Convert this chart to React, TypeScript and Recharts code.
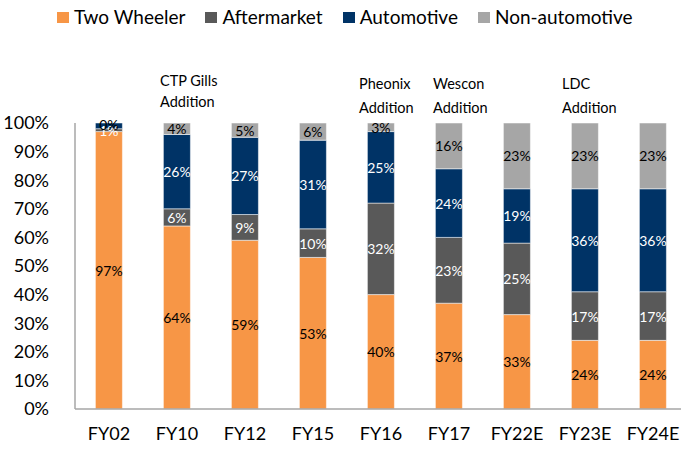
import React from 'react'
import { BarChart, Bar, XAxis, YAxis, LabelList } from 'recharts'

const categories = ['FY02', 'FY10', 'FY12', 'FY15', 'FY16', 'FY17', 'FY22E', 'FY23E', 'FY24E']
const twoWheeler = [97, 64, 59, 53, 40, 37, 33, 24, 24]
const aftermarket = [1, 6, 9, 10, 32, 23, 25, 17, 17]
const automotive = [2, 26, 27, 31, 25, 24, 19, 36, 36]
const nonAutomotive = [0, 4, 5, 6, 3, 16, 23, 23, 23]
const yTicks = [0, 10, 20, 30, 40, 50, 60, 70, 80, 90, 100]

const annotations = [
  { lines: ['CTP Gills', 'Addition'], left: 160, top: 70, lh: 21 },
  { lines: ['Pheonix', 'Addition'], left: 359, top: 72, lh: 24 },
  { lines: ['Wescon', 'Addition'], left: 433, top: 72, lh: 24 },
  { lines: ['LDC', 'Addition'], left: 562, top: 72, lh: 24 },
]

const series = [
  { key: 'twoWheeler', name: 'Two Wheeler', color: '#F79646', label: '#000000' },
  { key: 'aftermarket', name: 'Aftermarket', color: '#595959', label: '#ffffff' },
  { key: 'automotive', name: 'Automotive', color: '#003366', label: '#ffffff' },
  { key: 'nonAutomotive', name: 'Non-automotive', color: '#A6A6A6', label: '#000000' },
]

const data = categories.map((c, i) => ({
  cat: c,
  twoWheeler: twoWheeler[i],
  aftermarket: aftermarket[i],
  automotive: automotive[i],
  nonAutomotive: nonAutomotive[i],
}))

const FONT = 'Lato, "Open Sans", sans-serif'

const App: React.FC = () => {
  const makeLabel = (key: string, fill: string) => (props: any) => {
    const { x, y, width, height, value, index } = props
    const cx = x + width / 2
    // FY02: automotive sliver is unlabeled in the source; the 0% non-automotive label sits on its top edge
    if (key === 'automotive' && nonAutomotive[index] === 0) {
      return (
        <text x={cx} y={y + 1} textAnchor="middle" dominantBaseline="central" fontSize={14} fontFamily={FONT} fill="#000">
          {`${nonAutomotive[index]}%`}
        </text>
      )
    }
    if (!value) return null
    return (
      <text
        x={cx}
        y={y + height / 2}
        textAnchor="middle"
        dominantBaseline="central"
        fontSize={14}
        fontFamily={FONT}
        fill={fill}
      >
        {`${value}%`}
      </text>
    )
  }

  return (
    <div style={{ position: 'absolute', left: 0, top: 0, width: 681, height: 450, overflow: 'hidden', background: '#fff' }}>
      <BarChart
        width={700}
        height={450}
        data={data}
        margin={{ top: 123, right: 13, bottom: 11, left: 0 }}
        barCategoryGap="30%"
      >
        <XAxis
          dataKey="cat"
          height={30}
          tickLine={false}
          axisLine={{ stroke: '#A6A6A6', strokeWidth: 1.5 }}
          tick={{ fontSize: 18, fill: '#000', fontFamily: FONT }}
          tickMargin={12}
        />
        <YAxis
          width={75}
          domain={[0, 100]}
          ticks={yTicks}
          tickFormatter={(v) => `${v}%`}
          tickLine={false}
          axisLine={{ stroke: '#A6A6A6', strokeWidth: 1.5 }}
          tick={{ fontSize: 18, fill: '#000', fontFamily: FONT }}
          tickMargin={20}
          interval={0}
        />
        {series.map((s) => (
          <Bar
            key={s.key}
            dataKey={s.key}
            name={s.name}
            stackId="a"
            fill={s.color}
            stroke="#ffffff"
            strokeWidth={0.5}
            isAnimationActive={false}
          >
            <LabelList dataKey={s.key} content={makeLabel(s.key, s.label)} />
          </Bar>
        ))}
      </BarChart>
      <div
        style={{
          position: 'absolute',
          left: 57,
          top: 5,
          width: 640,
          display: 'flex',
          flexWrap: 'nowrap',
          alignItems: 'center',
          whiteSpace: 'nowrap',
          fontFamily: FONT,
          fontSize: 19,
          lineHeight: '24px',
          color: '#000',
        }}
      >
        {series.map((s) => (
          <div key={s.key} style={{ display: 'flex', alignItems: 'center', marginRight: 20, flexShrink: 0 }}>
            <span style={{ display: 'inline-block', width: 12, height: 11, background: s.color, marginRight: 5 }} />
            <span>{s.name}</span>
          </div>
        ))}
      </div>
      {annotations.map((a) => (
        <div
          key={a.lines[0]}
          style={{ position: 'absolute', left: a.left, top: a.top, fontFamily: FONT, fontSize: 14.5, lineHeight: `${a.lh}px`, color: '#000', whiteSpace: 'nowrap' }}
        >
          {a.lines.map((l) => (
            <div key={l}>{l}</div>
          ))}
        </div>
      ))}
    </div>
  )
}

export default App
